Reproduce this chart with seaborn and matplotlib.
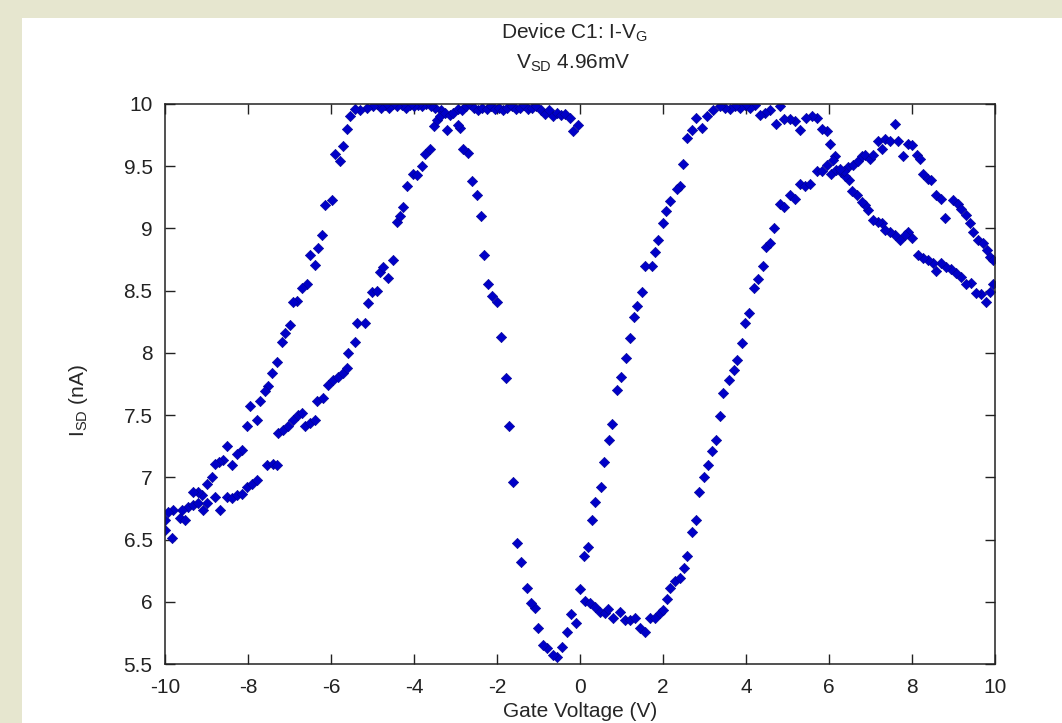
import numpy as np
import pandas as pd
import matplotlib
matplotlib.use('Agg')
import matplotlib.pyplot as plt
import seaborn as sns
from matplotlib.patches import Rectangle

# sweep 0 -> +10 V
vg_fwd = [0.12, 0.24, 0.36, 0.48, 0.6, 0.68, 0.8, 0.96, 1.08, 1.2, 1.33, 1.45, 1.57, 1.69, 1.81,
          1.93, 2.01, 2.09, 2.17, 2.29, 2.41, 2.51, 2.59, 2.69, 2.79, 2.87, 2.99, 3.09, 3.17, 3.27,
          3.37, 3.45, 3.59, 3.71, 3.79, 3.9, 3.98, 4.07, 4.2, 4.3, 4.4, 4.48, 4.58, 4.67, 4.82,
          4.92, 5.06, 5.18, 5.3, 5.42, 5.54, 5.7, 5.82, 5.94, 6.06, 6.18, 6.3, 6.45, 6.59, 6.71,
          6.79, 6.87, 6.99, 7.07, 7.19, 7.27, 7.35, 7.47, 7.59, 7.67, 7.79, 7.91, 7.99, 8.11, 8.19,
          8.27, 8.39, 8.47, 8.59, 8.71, 8.8, 9.0, 9.12, 9.19, 9.31, 9.39, 9.48, 9.6, 9.72, 9.8,
          9.88, 9.96]
isd_fwd = [6.01, 5.99, 5.96, 5.92, 5.91, 5.94, 5.87, 5.92, 5.85, 5.85, 5.87, 5.79, 5.76, 5.87, 5.87,
           5.91, 5.93, 6.02, 6.11, 6.17, 6.19, 6.27, 6.37, 6.56, 6.66, 6.88, 7.0, 7.1, 7.21, 7.3,
           7.49, 7.68, 7.78, 7.86, 7.94, 8.08, 8.24, 8.32, 8.52, 8.59, 8.7, 8.85, 8.88, 9.0, 9.2,
           9.17, 9.27, 9.24, 9.36, 9.34, 9.36, 9.46, 9.46, 9.51, 9.44, 9.47, 9.45, 9.49, 9.51, 9.54,
           9.58, 9.59, 9.56, 9.59, 9.7, 9.64, 9.72, 9.7, 9.84, 9.7, 9.58, 9.68, 9.67, 9.59, 9.56,
           9.44, 9.4, 9.39, 9.27, 9.24, 9.08, 9.23, 9.2, 9.16, 9.11, 9.04, 8.97, 8.91, 8.88, 8.83,
           8.77, 8.75]

# sweep +10 -> -10 V
vg_back = [9.96, 9.88, 9.79, 9.67, 9.55, 9.43, 9.31, 9.19, 9.07, 8.95, 8.83, 8.71, 8.59, 8.51, 8.39,
           8.27, 8.15, 7.99, 7.91, 7.83, 7.71, 7.59, 7.47, 7.35, 7.27, 7.19, 7.07, 6.95, 6.87, 6.79,
           6.67, 6.55, 6.47, 6.39, 6.35, 6.27, 6.14, 6.1, 6.02, 5.94, 5.82, 5.7, 5.58, 5.45, 5.3,
           5.18, 5.06, 4.92, 4.82, 4.72, 4.58, 4.46, 4.34, 4.22, 4.1, 3.98, 3.86, 3.74, 3.62, 3.49,
           3.37, 3.21, 3.05, 2.93, 2.8, 2.69, 2.59, 2.49, 2.41, 2.33, 2.17, 2.07, 1.99, 1.89, 1.81,
           1.73, 1.57, 1.49, 1.38, 1.3, 1.2, 1.11, 0.98, 0.88, 0.78, 0.69, 0.59, 0.51, 0.36, 0.28,
           0.2, 0.1, 0.0, -0.1, -0.22, -0.32, -0.44, -0.56, -0.64, -0.79, -0.88, -1.02, -1.08, -1.19, -1.28,
           -1.43, -1.53, -1.61, -1.71, -1.79, -1.9, -2.01, -2.13, -2.21, -2.31, -2.39, -2.49, -2.61, -2.69, -2.81,
           -2.89, -2.94, -3.21, -3.35, -3.5, -3.6, -3.7, -3.8, -3.9, -4.0, -4.1, -4.2, -4.3, -4.4, -4.5,
           -4.6, -4.7, -4.8, -4.9, -5.0, -5.14, -5.3, -5.42, -5.54, -5.62, -5.7, -5.78, -5.9, -5.98, -6.14,
           -6.22, -6.31, -6.39, -6.51, -6.59, -6.71, -6.83, -6.91, -6.99, -7.11, -7.19, -7.31, -7.43, -7.51, -7.59,
           -7.71, -7.79, -7.95, -8.03, -8.15, -8.27, -8.39, -8.51, -8.6, -8.7, -8.8, -8.87, -8.98, -9.1, -9.2,
           -9.33, -9.45, -9.6, -9.8, -9.93, -10.0]
isd_back = [8.55, 8.49, 8.41, 8.47, 8.48, 8.56, 8.55, 8.61, 8.64, 8.67, 8.69, 8.72, 8.66, 8.72, 8.75,
            8.76, 8.79, 8.92, 8.97, 8.95, 8.91, 8.95, 8.97, 8.99, 9.04, 9.05, 9.07, 9.15, 9.19, 9.21,
            9.27, 9.3, 9.39, 9.42, 9.46, 9.48, 9.58, 9.55, 9.68, 9.78, 9.8, 9.89, 9.9, 9.89, 9.79,
            9.86, 9.88, 9.88, 9.98, 9.84, 9.95, 9.93, 9.91, 9.99, 9.97, 9.99, 9.97, 9.98, 9.96, 9.97,
            9.98, 9.95, 9.9, 9.81, 9.89, 9.79, 9.73, 9.52, 9.34, 9.32, 9.22, 9.14, 9.04, 8.91, 8.81,
            8.7, 8.7, 8.49, 8.38, 8.29, 8.12, 7.96, 7.81, 7.7, 7.43, 7.3, 7.12, 6.92, 6.8, 6.66,
            6.44, 6.37, 6.1, 5.83, 5.9, 5.76, 5.64, 5.56, 5.57, 5.63, 5.65, 5.79, 5.95, 5.99, 6.11,
            6.32, 6.47, 6.96, 7.41, 7.8, 8.13, 8.41, 8.46, 8.55, 8.79, 9.1, 9.27, 9.38, 9.61, 9.64,
            9.81, 9.83, 9.79, 9.95, 9.97, 9.98, 10.0, 9.98, 9.99, 9.98, 9.99, 9.97, 9.99, 9.98, 10.0,
            9.97, 9.99, 9.97, 10.0, 9.98, 9.97, 9.95, 9.96, 9.9, 9.8, 9.66, 9.54, 9.6, 9.23, 9.19,
            8.95, 8.84, 8.71, 8.79, 8.55, 8.52, 8.42, 8.41, 8.22, 8.16, 8.09, 7.93, 7.84, 7.73, 7.69,
            7.61, 7.46, 7.57, 7.41, 7.22, 7.19, 7.1, 7.25, 7.14, 7.12, 7.11, 7.0, 6.95, 6.86, 6.88,
            6.88, 6.76, 6.74, 6.74, 6.72, 6.66]

# sweep -10 -> 0 V
vg_ret = [-10.0, -9.84, -9.64, -9.52, -9.33, -9.2, -9.08, -9.0, -8.8, -8.67, -8.51, -8.39, -8.27, -8.15, -8.03,
          -7.91, -7.79, -7.55, -7.39, -7.31, -7.28, -7.16, -7.04, -6.92, -6.8, -6.7, -6.63, -6.51, -6.39, -6.35,
          -6.19, -6.07, -5.95, -5.83, -5.71, -5.61, -5.59, -5.42, -5.38, -5.18, -5.1, -5.02, -4.9, -4.82, -4.74,
          -4.62, -4.51, -4.42, -4.34, -4.26, -4.18, -4.03, -3.93, -3.81, -3.73, -3.61, -3.53, -3.45, -3.37, -3.25,
          -3.13, -3.05, -2.95, -2.85, -2.75, -2.65, -2.55, -2.45, -2.35, -2.25, -2.15, -2.05, -1.95, -1.85, -1.75,
          -1.65, -1.55, -1.45, -1.35, -1.25, -1.15, -1.05, -0.95, -0.85, -0.75, -0.65, -0.55, -0.45, -0.35, -0.25,
          -0.16, -0.04]
isd_ret = [6.58, 6.51, 6.67, 6.66, 6.78, 6.79, 6.74, 6.79, 6.84, 6.74, 6.84, 6.83, 6.86, 6.87, 6.92,
           6.95, 6.98, 7.1, 7.11, 7.1, 7.36, 7.38, 7.41, 7.46, 7.5, 7.52, 7.41, 7.44, 7.46, 7.61,
           7.64, 7.74, 7.78, 7.81, 7.84, 7.88, 8.0, 8.09, 8.24, 8.24, 8.4, 8.49, 8.5, 8.65, 8.69,
           8.6, 8.75, 9.05, 9.1, 9.17, 9.34, 9.44, 9.43, 9.5, 9.6, 9.64, 9.82, 9.87, 9.9, 9.93,
           9.91, 9.93, 9.96, 9.95, 9.98, 10.0, 9.97, 9.95, 9.97, 9.96, 9.98, 9.96, 9.97, 9.95, 9.97,
           9.98, 9.96, 9.97, 9.99, 9.96, 9.97, 9.98, 9.95, 9.92, 9.95, 9.9, 9.93, 9.91, 9.92, 9.89,
           9.78, 9.83]

x_ticks = [-10, -8, -6, -4, -2, 0, 2, 4, 6, 8, 10]
y_ticks = [5.5, 6, 6.5, 7, 7.5, 8, 8.5, 9, 9.5, 10]
y_ticklabels = ['5.5', '6', '6.5', '7', '7.5', '8', '8.5', '9', '9.5', '10']

df = pd.concat([
    pd.DataFrame({'vg': vg_fwd, 'isd': isd_fwd, 'sweep': 'fwd'}),
    pd.DataFrame({'vg': vg_back, 'isd': isd_back, 'sweep': 'back'}),
    pd.DataFrame({'vg': vg_ret, 'isd': isd_ret, 'sweep': 'ret'}),
], ignore_index=True)

sns.set_style('ticks')
plt.rcParams['font.family'] = ['Liberation Sans', 'DejaVu Sans']
plt.rcParams['mathtext.fontset'] = 'custom'
plt.rcParams['mathtext.rm'] = 'Liberation Sans'

fig = plt.figure(figsize=(10.62, 7.23), dpi=100, facecolor='#e6e6cf')
# white panel of the MATLAB figure window
fig.patches.append(Rectangle((22 / 1062, 0), 1, 1 - 18 / 723, transform=fig.transFigure,
                             facecolor='white', edgecolor='none', zorder=-10))
ax = fig.add_axes([0.1554, 0.0816, 0.7815, 0.7746])
ax.set_zorder(1)

sns.scatterplot(data=df, x='vg', y='isd', marker='D', s=28, color='#0000c8',
                edgecolor='#000090', linewidth=0.4, legend=False, ax=ax)

ax.set_xlim(-10, 10)
ax.set_ylim(5.5, 10)
ax.set_xticks(x_ticks)
ax.set_xticklabels([str(t) for t in x_ticks])
ax.set_yticks(y_ticks)
ax.set_yticklabels(y_ticklabels)
ax.tick_params(direction='in', top=True, right=True, length=7, width=1,
               labelsize=15, colors='#222222')
ax.tick_params(axis='x', pad=10)
ax.tick_params(axis='y', pad=9)
for s in ax.spines.values():
    s.set_visible(True)
    s.set_linewidth(1.1)
    s.set_color('#222222')

ax.set_xlabel('Gate Voltage (V)', fontsize=15, labelpad=4)
ax.set_ylabel('I$_\\mathrm{SD}$ (nA)', fontsize=15)
ax.yaxis.set_label_coords(-0.09, 0.47)

fig.text(575 / 1062, 1 - 33 / 723, 'Device C1: I-V$_\\mathrm{G}$', ha='center', va='center', fontsize=15)
fig.text(573 / 1062, 1 - 63 / 723, 'V$_\\mathrm{SD}$ 4.96mV', ha='center', va='center', fontsize=15)

fig.savefig('out.png', dpi=100, facecolor=fig.get_facecolor())
